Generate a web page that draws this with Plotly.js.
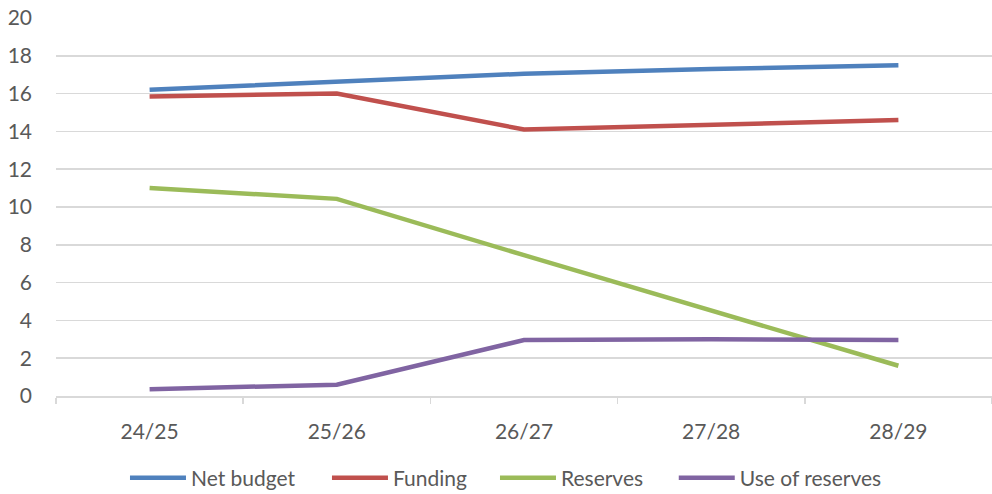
<!DOCTYPE html>
<html>
<head>
<meta charset="utf-8">
<script src="https://cdn.plot.ly/plotly-3.0.1.min.js"></script>
<style>html,body{margin:0;padding:0;background:#fff;}#chart{width:992px;height:494px;}</style>
</head>
<body>
<div id="chart"></div>
<script>
const categories = ["24/25", "25/26", "26/27", "27/28", "28/29"];
const netBudget = [16.2, 16.6, 17.05, 17.3, 17.5];
const funding = [15.85, 16.0, 14.1, 14.35, 14.6];
const reserves = [11.0, 10.43, 7.45, 4.5, 1.6];
const useOfReserves = [0.36, 0.6, 2.96, 3.0, 2.96];

const seriesNames = ["Net budget", "Funding", "Reserves", "Use of reserves"];
const seriesData = [netBudget, funding, reserves, useOfReserves];
const colors = ["#4f81bd", "#c0504d", "#9bbb59", "#8064a2"];
const legendIds = ["legend", "legend2", "legend3", "legend4"];
const legendX = [0.0737, 0.2895, 0.469, 0.660];

const traces = seriesData.map((d, i) => ({
  type: "scatter",
  mode: "lines",
  x: categories,
  y: d,
  name: seriesNames[i],
  legend: legendIds[i],
  line: {color: colors[i], width: 4.5}
}));

const layout = {
  width: 992,
  height: 494,
  margin: {l: 56, r: 0, t: 18, b: 98, autoexpand: false},
  paper_bgcolor: "#ffffff",
  plot_bgcolor: "#ffffff",
  font: {family: "Lato, 'Open Sans', sans-serif", size: 21, color: "#595959"},
  showlegend: true,
  xaxis: {
    type: "category",
    range: [-0.5, 4.5],
    automargin: false,
    showgrid: false,
    showline: true,
    linecolor: "#d9d9d9",
    linewidth: 1.5,
    ticks: "outside",
    tickson: "boundaries",
    ticklen: 6,
    tickcolor: "#d9d9d9",
    tickwidth: 1.5,
    ticklabelstandoff: 16,
    tickfont: {size: 21, color: "#595959"}
  },
  yaxis: {
    range: [0, 20],
    dtick: 2,
    tick0: 0,
    automargin: false,
    showgrid: true,
    gridcolor: "#d9d9d9",
    gridwidth: 1.5,
    zeroline: false,
    showline: false,
    ticks: "",
    ticklabelstandoff: 23,
    tickfont: {size: 21, color: "#595959"}
  }
};

legendIds.forEach((id, i) => {
  layout[id] = {
    orientation: "h",
    x: legendX[i],
    xanchor: "left",
    y: -0.217,
    yanchor: "middle",
    font: {size: 21, color: "#595959"},
    itemwidth: 56,
    bgcolor: "rgba(0,0,0,0)"
  };
});

Plotly.newPlot("chart", traces, layout, {displayModeBar: false, staticPlot: true});
</script>
</body>
</html>
